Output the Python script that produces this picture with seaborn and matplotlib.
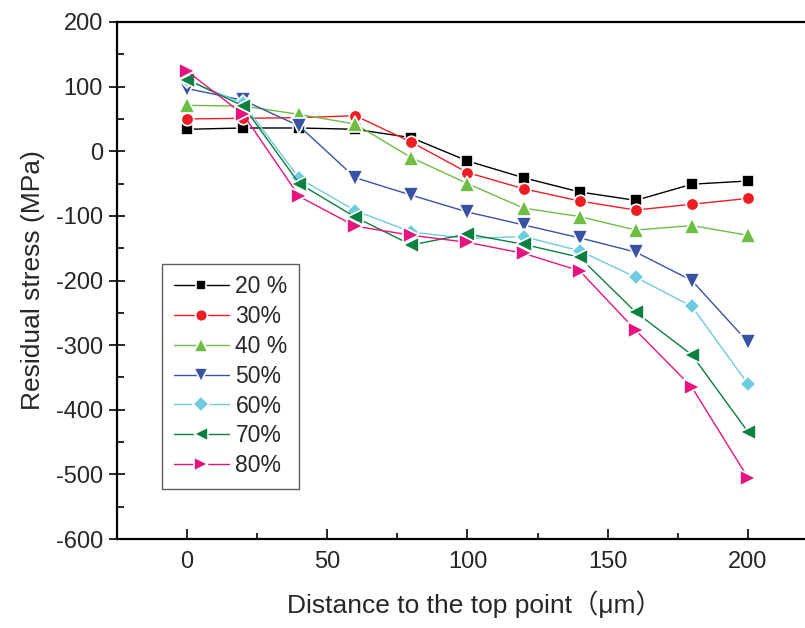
import numpy as np
import pandas as pd
import seaborn as sns
import matplotlib
matplotlib.use("Agg")
import matplotlib.pyplot as plt

# distance to the top point (um)
distance = [0, 20, 40, 60, 80, 100, 120, 140, 160, 180, 200]

labels = ["20 %", "30%", "40 %", "50%", "60%", "70%", "80%"]
s20 = [34, 36, 36, 34, 21, -15, -41, -63, -76, -51, -46]
s30 = [50, 51, 52, 55, 14, -33, -58, -77, -91, -82, -73]
s40 = [71, 70, 57, 42, -10, -50, -88, -101, -122, -115, -130]
s50 = [97, 79, 39, -41, -68, -94, -114, -134, -156, -200, -295]
s60 = [110, 74, -42, -92, -125, -135, -132, -154, -195, -240, -360]
s70 = [111, 70, -50, -102, -145, -128, -144, -164, -249, -315, -434]
s80 = [124, 57, -70, -116, -130, -141, -158, -185, -277, -365, -505]
series = [s20, s30, s40, s50, s60, s70, s80]

colors = ["#000000", "#ee1d23", "#6dbe45", "#3953a4", "#6dccdd", "#0b8040", "#e6147f"]
markers = ["s", "o", "^", "v", "D", "<", ">"]
msizes = [8, 9, 11, 11, 8.5, 11, 11]

#setting seaborn environment style
sns.set_style("ticks")
plt.rcParams["font.family"] = ["Liberation Sans", "Noto Sans CJK SC", "DejaVu Sans"]
plt.rcParams["axes.unicode_minus"] = False

fig = plt.figure(figsize=(8.05, 6.28), dpi=100)
# axes frame runs past the right edge, as in the cropped original
ax = fig.add_axes([117 / 805, 1 - 539 / 628, 715 / 805, 517 / 628])

df = pd.DataFrame({"x": distance * len(series),
                   "y": np.concatenate(series),
                   "grp": np.repeat(labels, len(distance))})

for lab, col, mk, ms in zip(labels, colors, markers, msizes):
    sub = df[df["grp"] == lab]
    sns.lineplot(ax=ax, data=sub, x="x", y="y", color=col, marker=mk,
                 markersize=ms, markeredgecolor="white", markeredgewidth=1.2,
                 linewidth=1.0, label=lab)

ax.set_xlim(-25, 230)
ax.set_ylim(-600, 200)
ax.set_xticks([0, 50, 100, 150, 200])
ax.set_xticks([25, 75, 125, 175, 225], minor=True)
ax.set_yticks(np.arange(-600, 201, 100))
ax.set_yticks(np.arange(-550, 200, 100), minor=True)

for sp in ax.spines.values():
    sp.set_linewidth(1.6)
    sp.set_color("black")

ax.tick_params(axis="x", which="major", direction="in", length=7, width=1.4,
               labelsize=17, pad=9)
ax.tick_params(axis="x", which="minor", direction="in", length=4, width=1.4)
ax.tick_params(axis="y", which="major", direction="inout", length=12, width=1.4,
               labelsize=17, pad=4)
ax.tick_params(axis="y", which="minor", direction="in", length=5, width=1.4)

#peripherals in plot
ax.set_xlabel("Distance to the top point（μm）", fontsize=19, labelpad=12)
ax.set_ylabel("Residual stress (MPa)", fontsize=19, labelpad=8)

leg = ax.legend(loc="center left", bbox_to_anchor=(0.063, 0.315), borderaxespad=0,
                fontsize=16.5, frameon=True, fancybox=False, edgecolor="#333333",
                handlelength=2.4, handletextpad=0.3, labelspacing=0.3,
                borderpad=0.5, markerscale=0.95)
leg.get_frame().set_linewidth(1.0)

fig.savefig("out.png", dpi=100)
